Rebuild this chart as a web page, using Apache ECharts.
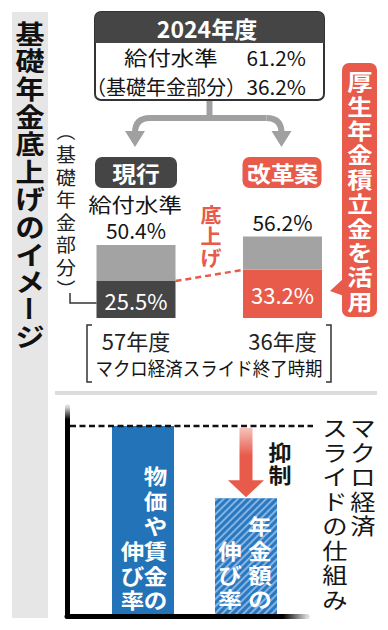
<!DOCTYPE html>
<html><head><meta charset="utf-8">
<script src="https://cdn.jsdelivr.net/npm/echarts@6/dist/echarts.min.js"></script>
<style>html,body{margin:0;padding:0;background:#fff}#c{width:388px;height:630px}</style>
</head><body><div id="c"></div>
<script>
// ---------- data ----------
const titleText = '基礎年金底上げのイメージ';
const baseYear = '2024年度';
const baseLabels = ['給付水準', '（基礎年金部分）'];
const baseValues = [61.2, 36.2];
const schemes = ['現行', '改革案'];
const periods = ['57年度', '36年度'];
const periodNote = 'マクロ経済スライド終了時期';
const totalLevel = [50.4, 56.2];
const basicPart = [25.5, 33.2];
const levelLabel = '給付水準';
const basicLabel = '（基礎年金部分）';
const raiseLabel = '底上げ';
const fundLabel = '厚生年金積立金を活用';
const slideCategories = ['物価や賃金の伸び率', '年金額の伸び率'];
const slideValues = [100, 62];
const slideTitle = ['マクロ経済', 'スライドの仕組み'];
const restrainLabel = '抑制';

// ---------- styles ----------
const FONT = '"Noto Sans CJK JP", "Noto Sans", sans-serif';
const RED = '#e85a4a';
const DARK = '#454545';
const GRAY = '#a3a3a3';
const BLUE = '#2273b8';
const INK = '#151515';

const chart = echarts.init(document.getElementById('c'), null, {renderer: 'svg'});

const option = {
  animation: false,
  backgroundColor: '#fff',
  grid: [
    {left: 62.75, width: 293, top: 231, height: 87},
    {left: 67, width: 240, top: 407, height: 209},
    {left: 91.5, width: 206, top: 407, height: 209}
  ],
  xAxis: [
    {gridIndex: 0, type: 'category', data: periods,
     axisLine: {show: false}, axisTick: {show: false},
     axisLabel: {margin: 11, fontSize: 22, color: '#222', fontFamily: FONT}},
    {gridIndex: 1, type: 'value', min: 0, max: 1, z: 5,
     axisLine: {show: true, lineStyle: {width: 5,
       color: new echarts.graphic.LinearGradient(67, 0, 307, 0, [
         {offset: 0, color: '#000'}, {offset: 0.9, color: '#000'}, {offset: 1, color: 'rgba(0,0,0,0.15)'}], true)}},
     axisTick: {show: false}, axisLabel: {show: false}, splitLine: {show: false}},
    {gridIndex: 2, type: 'category', data: slideCategories, show: false}
  ],
  yAxis: [
    {gridIndex: 0, type: 'value', min: 0, max: 60, show: false},
    {gridIndex: 1, type: 'value', min: 0, max: 110, z: 5,
     axisLine: {show: true, lineStyle: {width: 5,
       color: new echarts.graphic.LinearGradient(0, 407, 0, 616, [
         {offset: 0, color: 'rgba(0,0,0,0.15)'}, {offset: 0.06, color: '#000'}, {offset: 1, color: '#000'}], true)}},
     axisTick: {show: false}, axisLabel: {show: false}, splitLine: {show: false}},
    {gridIndex: 2, type: 'value', min: 0, max: 110, show: false}
  ],
  series: [
    {type: 'bar', xAxisIndex: 0, yAxisIndex: 0, stack: 'level', barWidth: 79,
     data: basicPart.map((v, i) => ({value: v, itemStyle: {color: i === 0 ? DARK : RED}})),
     label: {show: true, position: 'inside', color: '#fff', fontSize: 22, fontFamily: FONT,
             formatter: p => p.value.toFixed(1) + '%'}},
    {type: 'bar', xAxisIndex: 0, yAxisIndex: 0, stack: 'level', barWidth: 79,
     data: totalLevel.map((t, i) => +(t - basicPart[i]).toFixed(1)),
     itemStyle: {color: GRAY},
     label: {show: true, position: 'top', distance: 4, color: INK, fontSize: 21, fontFamily: FONT,
             formatter: p => totalLevel[p.dataIndex].toFixed(1) + '%'}},
    {type: 'bar', xAxisIndex: 2, yAxisIndex: 2, barWidth: 62,
     data: slideValues.map((v, i) => ({value: v, itemStyle: i === 0 ? {color: BLUE} : {
       color: '#2a78bf',
       decal: {symbol: 'rect', symbolSize: 1, dashArrayX: [1, 0], dashArrayY: [2, 3],
               rotation: -Math.PI / 4, color: 'rgba(160,200,240,0.75)'}}}))}
  ]
};
chart.setOption(option);

// ---------- annotations ----------
const ROT = '（）ー';
function vtext(str, x, c0, step, size, o) {
  o = o || {};
  return Array.from(str).map((ch, i) => {
    const rot = ROT.includes(ch);
    return {type: 'text', x: x, y: c0 + i * step, z: 20,
      rotation: rot ? -Math.PI / 2 : 0, scaleX: rot ? 1 : (o.sx || 1),
      style: {text: ch, fontSize: size, fontFamily: FONT, fontWeight: o.w || 'normal',
              fill: o.c || INK, align: 'center', verticalAlign: 'middle'}};
  });
}
function htext(str, x, y, size, o) {
  o = o || {};
  return {type: 'text', x: x, y: y, scaleX: o.sx || 1, z: 20,
    style: {text: str, fontSize: size, fontFamily: FONT, fontWeight: o.w || 'normal',
            fill: o.c || INK, align: o.a || 'center', verticalAlign: 'middle'}};
}

const P = (g, v) => chart.convertToPixel({gridIndex: g}, v);
const b0 = P(0, [0, basicPart[0]]);
const b1 = P(0, [1, basicPart[1]]);
const t0 = P(0, [0, totalLevel[0]]);
const half = 39.5;
const cx0 = b0[0], cx1 = b1[0];
const s0 = P(2, [0, slideValues[0]]);
const s1 = P(2, [1, slideValues[1]]);

const G = [];
// left gray strip + title
G.push({type: 'rect', shape: {x: 12, y: 12, width: 36, height: 606}, style: {fill: '#e6e6e6'}, z: 0});
G.push(...vtext(titleText, 30, 32.5, 27.6, 26, {w: 'bold', sx: 1.12, c: '#111'}));

// 2024 box
G.push({type: 'rect', shape: {x: 95, y: 12, width: 229, height: 88, r: 6},
        style: {fill: '#fff', stroke: '#333', lineWidth: 2}, z: 5});
G.push({type: 'rect', shape: {x: 95, y: 12, width: 229, height: 31, r: [6, 6, 0, 0]},
        style: {fill: DARK}, z: 6});
G.push(htext(baseYear, 207, 28, 23, {c: '#fff', w: 'bold'}));
G.push(htext(baseLabels[0], 124, 57.5, 20, {a: 'left', sx: 1.17}));
G.push(htext(baseValues[0].toFixed(1) + '%', 306, 57.5, 20, {a: 'right', sx: 1.04}));
G.push(htext(baseLabels[1], 86, 86, 20, {a: 'left'}));
G.push(htext(baseValues[1].toFixed(1) + '%', 306, 86, 20, {a: 'right', sx: 1.04}));

// gray split arrows
const AG = '#a0a0a0';
const aL = cx0 - 1, aR = cx1 - 1;
const ls = {stroke: AG, lineWidth: 6, fill: null};
G.push({type: 'line', shape: {x1: 209.5, y1: 100, x2: 209.5, y2: 118}, style: ls, z: 4});
G.push({type: 'line', shape: {x1: aL + 15, y1: 118, x2: aR - 15, y2: 118}, style: ls, z: 4});
G.push({type: 'bezierCurve', shape: {x1: aL + 15, y1: 118, cpx1: aL, cpy1: 118, x2: aL, y2: 133}, style: ls, z: 4});
G.push({type: 'bezierCurve', shape: {x1: aR - 15, y1: 118, cpx1: aR, cpy1: 118, x2: aR, y2: 133}, style: ls, z: 4});
[aL, aR].forEach(ax => G.push({type: 'polygon', shape: {points: [[ax - 10, 131], [ax + 10, 131], [ax, 147]]},
                                style: {fill: AG}, z: 4}));

// scheme labels
G.push({type: 'rect', shape: {x: cx0 - 41, y: 157, width: 82, height: 31, r: 7}, style: {fill: DARK}, z: 5});
G.push(htext(schemes[0], cx0, 172.5, 22, {c: '#fff', w: 'bold', sx: 1.08}));
G.push({type: 'rect', shape: {x: cx1 - 40, y: 157, width: 79, height: 31, r: 7}, style: {fill: RED}, z: 5});
G.push(htext(schemes[1], cx1, 172.5, 22, {c: '#fff', w: 'bold', sx: 1.08}));

// fund callout
G.push({type: 'rect', shape: {x: 342, y: 63, width: 35, height: 254, r: 7}, style: {fill: RED}, z: 5});
G.push({type: 'polygon', shape: {points: [[344, 278], [344, 296], [330, 291]]}, style: {fill: RED}, z: 5});
G.push(...vtext(fundLabel, 360, 81, 24.4, 22, {w: 'bold', c: '#fff', sx: 1.15}));

// basic-part vertical note + leader
G.push(...vtext(basicLabel, 66, 131.5, 22.5, 19, {c: '#222', sx: 1.05}));
G.push({type: 'polyline', shape: {points: [[70, 293], [70, 303], [cx0 - half, 303]]},
        style: {stroke: '#333', lineWidth: 1.5, fill: null}, z: 6});

// level label above current bar
G.push(htext(levelLabel, cx0 - 1, t0[1] - 41, 20, {sx: 1.17}));

// raise dashed line + label
G.push({type: 'line', shape: {x1: cx0 + half, y1: b0[1], x2: cx1 - half, y2: b1[1]},
        style: {stroke: RED, lineWidth: 2.5, lineDash: [6, 4]}, z: 6});
G.push(...vtext(raiseLabel, 211, 214, 21.5, 20, {c: RED, w: 'bold', sx: 1.05}));

// period brackets + note
G.push({type: 'polyline', shape: {points: [[92, 325], [87, 325], [87, 382], [92, 382]]},
        style: {stroke: '#333', lineWidth: 1.5, fill: null}, z: 6});
G.push({type: 'polyline', shape: {points: [[326, 325], [331, 325], [331, 382], [326, 382]]},
        style: {stroke: '#333', lineWidth: 1.5, fill: null}, z: 6});
G.push(htext(periodNote, 209, 368, 19, {sx: 0.92}));

// separator
G.push({type: 'rect', shape: {x: 55, y: 391, width: 322, height: 4}, style: {fill: '#dcdcdc'}, z: 1});

// bottom: dashed reference line
G.push({type: 'line', shape: {x1: 70, y1: s0[1], x2: 313, y2: s0[1]},
        style: {stroke: '#111', lineWidth: 2.5, lineDash: [6, 3.5]}, z: 6});
// red restrain arrow
const ax = s1[0], ay0 = s0[1] + 2, ay1 = s1[1] - 1;
G.push({type: 'polygon', z: 6, shape: {points: [
  [ax - 6.5, ay0], [ax + 6.5, ay0], [ax + 6.5, ay1 - 17], [ax + 18, ay1 - 17], [ax, ay1],
  [ax - 18, ay1 - 17], [ax - 6.5, ay1 - 17]]},
  style: {fill: new echarts.graphic.LinearGradient(0, 0, 0, 1, [
    {offset: 0, color: '#f6c2bb'}, {offset: 0.4, color: RED}, {offset: 1, color: RED}])}});
G.push(...vtext(restrainLabel, 280, 450, 23, 21, {w: 'bold', sx: 1.1}));

// slide title
G.push(...vtext(slideTitle[0], 363, 427, 24.5, 22, {sx: 1.15}));
G.push(...vtext(slideTitle[1], 335, 427, 24.5, 22, {sx: 1.15}));

// bar texts
G.push(...vtext('物価や賃金の', s0[0] + 12.5, 475, 24.8, 21, {w: 'bold', c: '#fff', sx: 1.12}));
G.push(...vtext('伸び率', s0[0] - 10.5, 475 + 3 * 24.8, 24.8, 21, {w: 'bold', c: '#fff', sx: 1.12}));
G.push(...vtext('年金額の', s1[0] + 14, 525, 24.3, 21, {w: 'bold', c: '#fff', sx: 1.12}));
G.push(...vtext('伸び率', s1[0] - 16, 525 + 24.3, 24.3, 21, {w: 'bold', c: '#fff', sx: 1.12}));

chart.setOption({graphic: G});
</script>
</body></html>
